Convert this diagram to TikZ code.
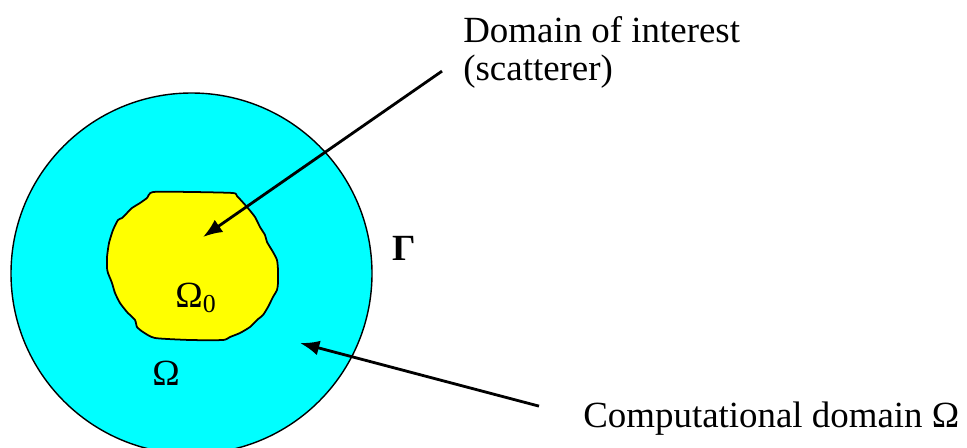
\documentclass[tikz,border=0pt]{standalone}
\usepackage{fontspec}
\setmainfont{Liberation Serif}
\usepackage{xcolor}
\usepackage{tikz}
\usetikzlibrary{arrows.meta,positioning,calc}
\definecolor{aqua}{RGB}{0,255,255}
\definecolor{lemon}{RGB}{255,255,0}

\begin{document}
\begin{tikzpicture}[x=0.02cm,y=-0.02cm,font=\fontsize{21}{21.6}\selectfont,>={Latex[length=11pt,width=8.5pt]},
  lbl/.style={anchor=base west,inner sep=0pt},
  arr/.style={->,line width=1.6pt}]
\useasboundingbox (0,0) rectangle (967,447);
\clip (0,0) rectangle (967,447);
% computational domain
\draw[fill=aqua,line width=0.8pt] (191.5,273.5) circle[radius=180.5];
% scatterer
\draw[fill=lemon,line width=1pt] plot[smooth cycle,tension=0.35] coordinates {
  (153,192) (193,192) (233,193) (237,196) (247,207) (255,217) (260,227) (265,235)
  (267,242) (273,252) (277,260) (278,270) (278,283) (277,290) (273,297) (268,307)
  (263,315) (257,320) (250,327) (240,333) (230,337) (223,340) (190,340) (155,338)
  (143,332) (137,327) (135,320) (127,312) (120,303) (115,293) (112,283) (108,273)
  (107,268) (107,257) (109,243) (113,230) (118,220) (122,218) (127,213) (132,208)
  (140,203) (147,198)};
\node[lbl] (omega0) at (175,307) {Ω\textsubscript{0}};
\node[lbl] (omega) at (152,385) {Ω};
\node[lbl] (gamma) at (392,260) {\bfseries Γ};
\node[lbl] (interest) at (463,42) {Domain of interest};
\node[lbl] (scatterer) at (463,80) {(scatterer)};
\node[lbl] (comp) at (583,427) {Computational domain Ω};
\coordinate (tip0) at (203,237);
\coordinate (tip1) at (300,343);
\draw[arr] ([shift={(-21,0)}]scatterer.west) -- (tip0);
\draw[arr] ([shift={(-44,-12)}]comp.west) -- (tip1);
\end{tikzpicture}
\end{document}
